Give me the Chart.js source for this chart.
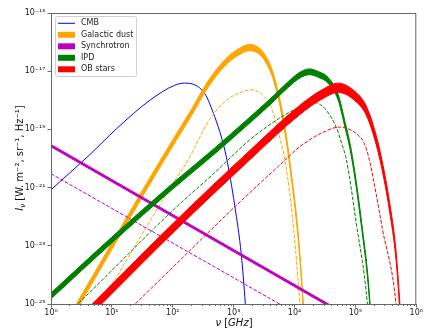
<!DOCTYPE html>
<html>
<head>
<meta charset="utf-8">
<script src="https://cdn.jsdelivr.net/npm/chart.js@4"></script>
<style>
  html, body { margin: 0; padding: 0; background: #fff; }
</style>
</head>
<body>
<canvas id="sed" width="424" height="329"></canvas>
<script>
// frequencies in GHz, intensities in W m^-2 sr^-1 Hz^-1
const cmbNu = [1, 4.25, 12, 42, 108, 157, 335, 489, 628, 759, 1040, 1340, 1556, 1700];
const cmbI = [8.5e-22, 1.3e-20, 1.07e-19, 1.0e-18, 3.3e-18, 3.9e-18, 1.7e-18, 2.7e-19, 5.5e-20, 1.12e-20, 2.45e-22, 4.7e-24, 1.02e-25, 7.9e-27];

const dustNu = [2.0, 2.8, 10, 31.6, 108, 203, 379, 711, 1122, 1828, 2844, 4150, 5012, 6053, 7311, 8318, 11510, 13900, 15140];
const dustHi = [3.80e-26, 1.29e-25, 1.26e-23, 7.94e-22, 5.75e-20, 4.90e-19, 4.57e-18, 2.45e-17, 5.37e-17, 8.32e-17, 5.37e-17, 1.35e-17, 3.63e-18, 6.46e-19, 6.46e-20, 9.12e-21, 2.57e-23, 1.15e-25, 4.07e-27];
const dustLo = [2.29e-26, 7.76e-26, 7.59e-24, 4.79e-22, 3.47e-20, 2.95e-19, 2.75e-18, 1.48e-17, 3.24e-17, 5.01e-17, 3.24e-17, 8.13e-18, 2.19e-18, 3.89e-19, 3.89e-20, 5.50e-21, 1.55e-23, 6.92e-26, 2.45e-27];
const dustDashNu = [4.0, 6.35, 89.3, 190, 379, 711, 1337, 1950, 2844, 4150, 5012, 6053, 6855, 8913, 12220, 13180];
const dustDashI = [1.78e-26, 9.12e-26, 9.33e-22, 1.12e-20, 1.78e-19, 8.91e-19, 1.91e-18, 2.29e-18, 1.66e-18, 5.62e-19, 1.58e-19, 3.24e-20, 1.0e-20, 2.0e-22, 9.77e-26, 6.31e-27];

const syncNu = [1, 1e6];
const syncHi = [3.02e-20, 1.86e-27];
const syncLo = [2.51e-20, 1.55e-27];
const syncDashNu = [1, 1e6];
const syncDashI = [3.0e-21, 2.1e-28];

const ipdNu = [1, 10, 100, 501, 1585, 3981, 7943, 12590, 17780, 25120, 35480, 52000, 66830, 85900, 123900, 173000, 186200];
const ipdHi = [2.40e-25, 2.00e-23, 1.41e-21, 2.40e-20, 2.00e-19, 1.12e-18, 4.47e-18, 9.55e-18, 1.20e-17, 9.55e-18, 6.17e-18, 1.62e-18, 2.00e-19, 1.86e-20, 8.91e-23, 1.23e-25, 6.31e-27];
const ipdLo = [1.51e-25, 1.26e-23, 8.91e-22, 1.51e-20, 1.26e-19, 7.08e-19, 2.82e-18, 6.03e-18, 7.59e-18, 6.03e-18, 3.89e-18, 1.02e-18, 1.26e-19, 1.17e-20, 5.62e-23, 7.76e-26, 3.98e-27];
const ipdDashNu = [1.58, 2.64, 108, 436, 1995, 6310, 12080, 17620, 25120, 33110, 48310, 61940, 70470, 102600, 157400, 169800];
const ipdDashI = [3.31e-26, 9.12e-26, 1.91e-22, 2.63e-21, 5.01e-20, 2.82e-19, 5.89e-19, 8.71e-19, 7.59e-19, 4.57e-19, 1.20e-19, 2.51e-20, 1.0e-20, 6.61e-23, 9.77e-26, 1.0e-26];

const obNu = [3.16, 5.61, 108, 1828, 12080, 28180, 52480, 102600, 149600, 204600, 263600, 360600, 464500, 532100, 575400];
const obHi = [4.27e-26, 1.41e-25, 6.76e-23, 1.86e-20, 6.61e-19, 2.29e-18, 3.89e-18, 1.86e-18, 6.61e-19, 1.05e-19, 1.26e-20, 3.55e-22, 6.76e-24, 1.41e-25, 9.12e-27];
const obLo = [2.04e-26, 6.76e-26, 3.24e-23, 8.91e-21, 3.16e-19, 1.10e-18, 1.86e-18, 8.91e-19, 3.16e-19, 5.01e-20, 6.03e-21, 1.70e-22, 3.24e-24, 6.76e-26, 4.37e-27];
const obDashNu = [15.8, 23.8, 108, 1000, 6855, 12080, 28180, 54700, 102600, 140600, 169800, 280500, 464500, 501200];
const obDashI = [4.27e-26, 9.77e-26, 2.14e-24, 2.0e-22, 8.5e-21, 2.51e-20, 7.59e-20, 1.20e-19, 7.24e-20, 3.24e-20, 8.71e-21, 3.39e-23, 9.77e-26, 1.0e-26];

const xTicks = [1, 10, 100, 1e3, 1e4, 1e5, 1e6];
const xTickLabels = ['10⁰', '10¹', '10²', '10³', '10⁴', '10⁵', '10⁶'];
const yTicks = [1e-25, 1e-23, 1e-21, 1e-19, 1e-17, 1e-15];
const yTickLabels = ['10⁻²⁵', '10⁻²³', '10⁻²¹', '10⁻¹⁹', '10⁻¹⁷', '10⁻¹⁵'];

const legendLabels = ['CMB', 'Galactic dust', 'Synchrotron', 'IPD', 'OB stars'];
const C = { cmb: '#0000ff', dust: '#ffa500', sync: '#bf00bf', ipd: '#008000', ob: '#ff0000' };
const legendColors = [C.cmb, C.dust, C.sync, C.ipd, C.ob];

const FONT = '"DejaVu Sans", sans-serif';

const pts = (nu, I) => nu.map((v, i) => ({ x: v, y: I[i] }));

function line(label, nu, I, color, order, dashed) {
    return {
        label, data: pts(nu, I), borderColor: color, backgroundColor: color,
        borderWidth: 1, borderDash: dashed ? [3.7, 1.6] : [], pointRadius: 0, fill: false, order
    };
}

// two edges of a shaded band, the second filled up to the first
function band(label, nu, hi, lo, color, order) {
    return [
        { label, data: pts(nu, hi), borderColor: color, backgroundColor: color, borderWidth: 1, pointRadius: 0, fill: false, order },
        { label: label + ' (low)', data: pts(nu, lo), borderColor: color, backgroundColor: color, borderWidth: 1, pointRadius: 0, fill: '-1', order }
    ];
}

const datasets = [
    line('CMB', cmbNu, cmbI, C.cmb, 9, false),
    ...band('Galactic dust', dustNu, dustHi, dustLo, C.dust, 8),
    line('Galactic dust (dashed)', dustDashNu, dustDashI, C.dust, 7, true),
    ...band('Synchrotron', syncNu, syncHi, syncLo, C.sync, 6),
    line('Synchrotron (dashed)', syncDashNu, syncDashI, C.sync, 5, true),
    ...band('IPD', ipdNu, ipdHi, ipdLo, C.ipd, 4),
    line('IPD (dashed)', ipdDashNu, ipdDashI, C.ipd, 3, true),
    ...band('OB stars', obNu, obHi, obLo, C.ob, 2),
    line('OB stars (dashed)', obDashNu, obDashI, C.ob, 1, true)
];

// frame, minor ticks, axis titles and the legend box
const decor = {
    id: 'decor',
    afterDraw(chart) {
        const ctx = chart.ctx, a = chart.chartArea, xs = chart.scales.x;
        ctx.save();

        ctx.strokeStyle = '#444';
        ctx.lineWidth = 0.8;
        for (let e = 0; e < 6; e++) {
            for (let m = 2; m <= 9; m++) {
                const px = Math.round(xs.getPixelForValue(m * Math.pow(10, e))) + 0.5;
                ctx.beginPath(); ctx.moveTo(px, a.bottom); ctx.lineTo(px, a.bottom + 2); ctx.stroke();
            }
        }

        ctx.strokeStyle = '#666';
        ctx.lineWidth = 1;
        ctx.strokeRect(a.left + 0.5, a.top + 0.5, a.right - a.left - 1, a.bottom - a.top);

        // legend
        const lx = 55.5, ly = 16.5;
        ctx.fillStyle = 'rgba(255,255,255,0.8)';
        ctx.strokeStyle = '#d0d0d0';
        ctx.beginPath(); ctx.roundRect(lx, ly, 81, 60, 2); ctx.fill(); ctx.stroke();
        ctx.font = '8px ' + FONT;
        ctx.textBaseline = 'middle';
        legendLabels.forEach((t, i) => {
            const y = 23.3 + i * 11.5;
            if (i === 0) {
                ctx.strokeStyle = legendColors[i]; ctx.lineWidth = 1;
                ctx.beginPath(); ctx.moveTo(58, y); ctx.lineTo(75, y); ctx.stroke();
            } else {
                ctx.fillStyle = legendColors[i];
                ctx.fillRect(58, y - 3, 17, 6);
            }
            ctx.fillStyle = '#222';
            ctx.fillText(t, 81, y);
        });

        // axis titles
        ctx.fillStyle = '#111';
        ctx.textBaseline = 'alphabetic';
        const it = 'italic 10px ' + FONT, rg = '10px ' + FONT, sub = 'italic 7px ' + FONT;
        const drawParts = (parts, cx, cy) => {
            let w = 0;
            parts.forEach(p => { ctx.font = p[1]; w += ctx.measureText(p[0]).width; });
            let x = cx - w / 2;
            parts.forEach(p => { ctx.font = p[1]; ctx.fillText(p[0], x, cy + (p[2] || 0)); x += ctx.measureText(p[0]).width; });
        };
        drawParts([['ν', it], [' [', rg], ['GHz', it], [']', rg]], 234, 326);

        ctx.translate(23, 158);
        ctx.rotate(-Math.PI / 2);
        drawParts([['I', it], ['ν', sub, 2], [' [W. m⁻², sr⁻¹, Hz⁻¹]', rg]], 0, 0);

        ctx.restore();
    }
};

const tickGrid = { drawOnChartArea: false, drawTicks: true, tickLength: 3.5, tickColor: '#444', tickWidth: 0.8 };

new Chart(document.getElementById('sed'), {
    type: 'line',
    data: { datasets },
    options: {
        responsive: false, animation: false, devicePixelRatio: 1,
        elements: { line: { cubicInterpolationMode: 'monotone' } },
        layout: { autoPadding: false, padding: { top: 13, right: 7, left: 0, bottom: 0 } },
        plugins: { legend: { display: false }, tooltip: { enabled: false } },
        scales: {
            x: {
                type: 'logarithmic', min: 1, max: 1e6, position: 'bottom',
                afterBuildTicks: s => { s.ticks = xTicks.map(v => ({ value: v })); },
                afterFit: s => { s.height = 25; },
                grid: tickGrid, border: { display: false },
                ticks: {
                    autoSkip: false, maxRotation: 0, padding: 1, color: '#222', font: { size: 8, family: FONT },
                    callback: (v) => xTickLabels[xTicks.indexOf(v)] ?? ''
                }
            },
            y: {
                type: 'logarithmic', min: 1e-25, max: 1e-15,
                afterBuildTicks: s => { s.ticks = yTicks.map(v => ({ value: v })); },
                afterFit: s => { s.width = 51; },
                grid: tickGrid, border: { display: false },
                ticks: {
                    autoSkip: false, padding: 2, color: '#222', font: { size: 8, family: FONT },
                    callback: (v) => {
                        const i = yTicks.findIndex(t => Math.abs(Math.log10(t) - Math.log10(v)) < 1e-6);
                        return i >= 0 ? yTickLabels[i] : '';
                    }
                }
            }
        }
    },
    plugins: [decor]
});
</script>
</body>
</html>
